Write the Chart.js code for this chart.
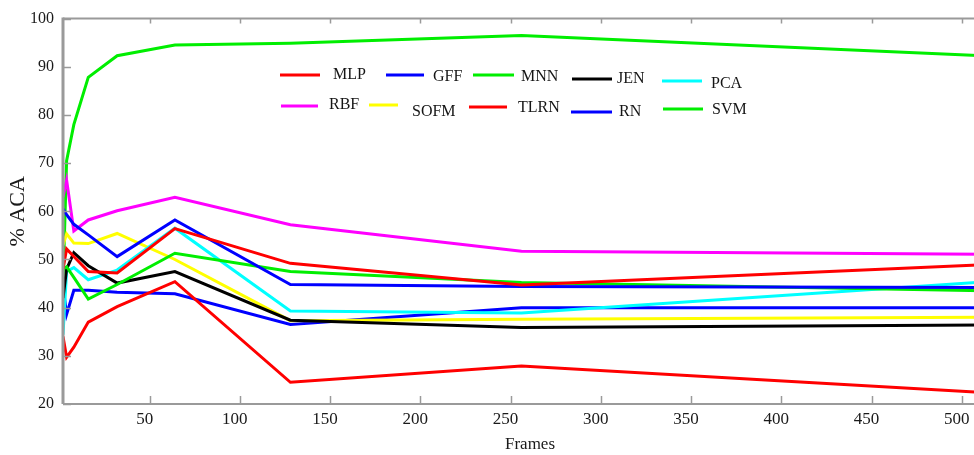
<!DOCTYPE html>
<html>
<head>
<meta charset="utf-8">
<title>% ACA vs Frames</title>
<script src="https://cdn.jsdelivr.net/npm/chart.js@4/dist/chart.umd.min.js"></script>
<style>
    html, body { margin: 0; padding: 0; background: #fff; overflow: hidden; }
    #wrap { width: 1000px; height: 455px; }
</style>
</head>
<body>
<div id="wrap"><canvas id="acaChart" width="1000" height="455"></canvas></div>
<script>
// --- DATA ---
const frames = [2, 4, 8, 16, 32, 64, 128, 256, 512];

const mlp  = [48.0, 52.2, 50.6, 47.5, 47.2, 56.4, 49.2, 44.7, 48.9];
const gff  = [60.5, 59.3, 57.3, 55.1, 50.6, 58.2, 44.8, 44.4, 44.2];
const mnn  = [48.0, 48.5, 46.3, 41.8, 44.8, 51.3, 47.5, 45.2, 43.5];
const jen  = [42.0, 48.0, 51.4, 48.7, 45.1, 47.5, 37.4, 35.9, 36.4];
const pca  = [34.4, 47.5, 48.3, 45.8, 47.8, 56.5, 39.3, 38.9, 45.3];
const rbf  = [63.0, 66.5, 55.9, 58.2, 60.1, 62.9, 57.2, 51.7, 51.1];
const sofm = [53.0, 55.3, 53.4, 53.3, 55.4, 50.0, 37.3, 37.6, 38.0];
const tlrn = [34.0, 29.7, 31.8, 37.0, 40.2, 45.4, 24.5, 27.9, 22.4];
const rn   = [44.5, 38.6, 43.6, 43.6, 43.2, 42.9, 36.5, 40.0, 40.0];
const svm  = [44.7, 70.5, 78.0, 87.8, 92.3, 94.5, 94.9, 96.5, 92.3];

const seriesNames = ['MLP', 'GFF', 'MNN', 'JEN', 'PCA', 'RBF', 'SOFM', 'TLRN', 'RN', 'SVM'];
const seriesData  = [mlp, gff, mnn, jen, pca, rbf, sofm, tlrn, rn, svm];

const xTicks = [50, 100, 150, 200, 250, 300, 350, 400, 450, 500];
const yTicks = [20, 30, 40, 50, 60, 70, 80, 90, 100];

// --- STYLE ---
const colors = ['#ff0000', '#0000ff', '#00ee00', '#000000', '#00ffff',
                '#ff00ff', '#ffff00', '#ff0000', '#0000ff', '#00ee00'];

// legend placement: [lineStart, lineEnd, lineY, textX, textY]
const legendSpots = [
    [280, 320, 75, 333, 75],
    [386, 424, 75, 433, 77],
    [473, 514, 75, 521, 77],
    [572, 612, 79, 617, 79],
    [662, 702, 81, 711, 84],
    [281, 318, 106, 329, 105],
    [369, 398, 105, 412, 112],
    [469, 507, 107, 518, 108],
    [571, 612, 112, 619, 112],
    [663, 703, 109, 712, 110]
];

const serif = "'Liberation Serif', 'DejaVu Serif', serif";
const axisGray = '#9a9a9a';

// --- FRAME, INWARD TICKS, LEGEND ---
const frameAndLegend = {
    id: 'frameAndLegend',
    afterDraw(chart) {
        const { ctx, chartArea: a, scales: { x, y } } = chart;
        ctx.save();
        ctx.strokeStyle = axisGray;

        ctx.lineWidth = 2;
        ctx.beginPath();
        ctx.moveTo(a.left, a.top); ctx.lineTo(a.right, a.top);
        ctx.moveTo(a.left, a.bottom); ctx.lineTo(a.right, a.bottom);
        ctx.stroke();

        ctx.lineWidth = 3;
        ctx.beginPath();
        ctx.moveTo(a.left, a.top - 1); ctx.lineTo(a.left, a.bottom);
        ctx.stroke();

        ctx.lineWidth = 1.5;
        ctx.beginPath();
        xTicks.forEach(v => {
            const px = Math.round(x.getPixelForValue(v)) + 0.5;
            ctx.moveTo(px, a.bottom); ctx.lineTo(px, a.bottom - 8);
            ctx.moveTo(px, a.top); ctx.lineTo(px, a.top + 5);
        });
        yTicks.forEach(v => {
            const py = Math.round(y.getPixelForValue(v)) + 0.5;
            ctx.moveTo(a.left, py); ctx.lineTo(a.left + 8, py);
        });
        ctx.stroke();

        // legend
        ctx.font = '16px ' + serif;
        ctx.fillStyle = '#151515';
        ctx.textBaseline = 'middle';
        ctx.lineWidth = 3;
        chart.data.datasets.forEach((ds, i) => {
            const [x1, x2, ly, tx, ty] = legendSpots[i];
            ctx.strokeStyle = ds.borderColor;
            ctx.beginPath();
            ctx.moveTo(x1, ly); ctx.lineTo(x2, ly);
            ctx.stroke();
            ctx.fillText(ds.label, tx, ty);
        });
        ctx.restore();
    }
};

// --- CHART ---
document.addEventListener('DOMContentLoaded', () => {
    const datasets = seriesNames.map((name, i) => ({
        label: name,
        data: frames.map((f, j) => ({ x: f, y: seriesData[i][j] })),
        borderColor: colors[i],
        backgroundColor: colors[i],
        borderWidth: 3,
        pointRadius: 0,
        tension: 0,
        fill: false
    }));

    new Chart(document.getElementById('acaChart'), {
        type: 'line',
        data: { datasets },
        options: {
            responsive: false,
            animation: false,
            devicePixelRatio: 1,
            layout: { padding: { top: 14, right: 3, left: 0, bottom: 0 } },
            plugins: { legend: { display: false }, tooltip: { enabled: false } },
            scales: {
                x: {
                    type: 'linear',
                    min: 2,
                    max: 519.5,
                    grid: { display: false, drawTicks: false },
                    border: { display: false },
                    afterBuildTicks: s => { s.ticks = xTicks.map(v => ({ value: v })); },
                    afterFit: s => { s.height = 51; },
                    ticks: {
                        padding: 5,
                        labelOffset: -5,
                        maxRotation: 0,
                        color: '#1a1a1a',
                        font: { family: serif, size: 17 }
                    },
                    title: {
                        display: true,
                        text: 'Frames',
                        color: '#1a1a1a',
                        padding: { top: 0, bottom: 0 },
                        font: { family: serif, size: 17 }
                    }
                },
                y: {
                    min: 20,
                    max: 100,
                    grid: { display: false, drawTicks: false },
                    border: { display: false },
                    afterBuildTicks: s => { s.ticks = yTicks.map(v => ({ value: v })); },
                    afterFit: s => { s.width = 63; },
                    ticks: {
                        padding: 9,
                        color: '#1a1a1a',
                        font: { family: serif, size: 16 }
                    },
                    title: {
                        display: true,
                        text: '% ACA',
                        color: '#1a1a1a',
                        padding: { top: 5, bottom: 0 },
                        font: { family: serif, size: 22 }
                    }
                }
            }
        },
        plugins: [frameAndLegend]
    });
});
</script>
</body>
</html>
